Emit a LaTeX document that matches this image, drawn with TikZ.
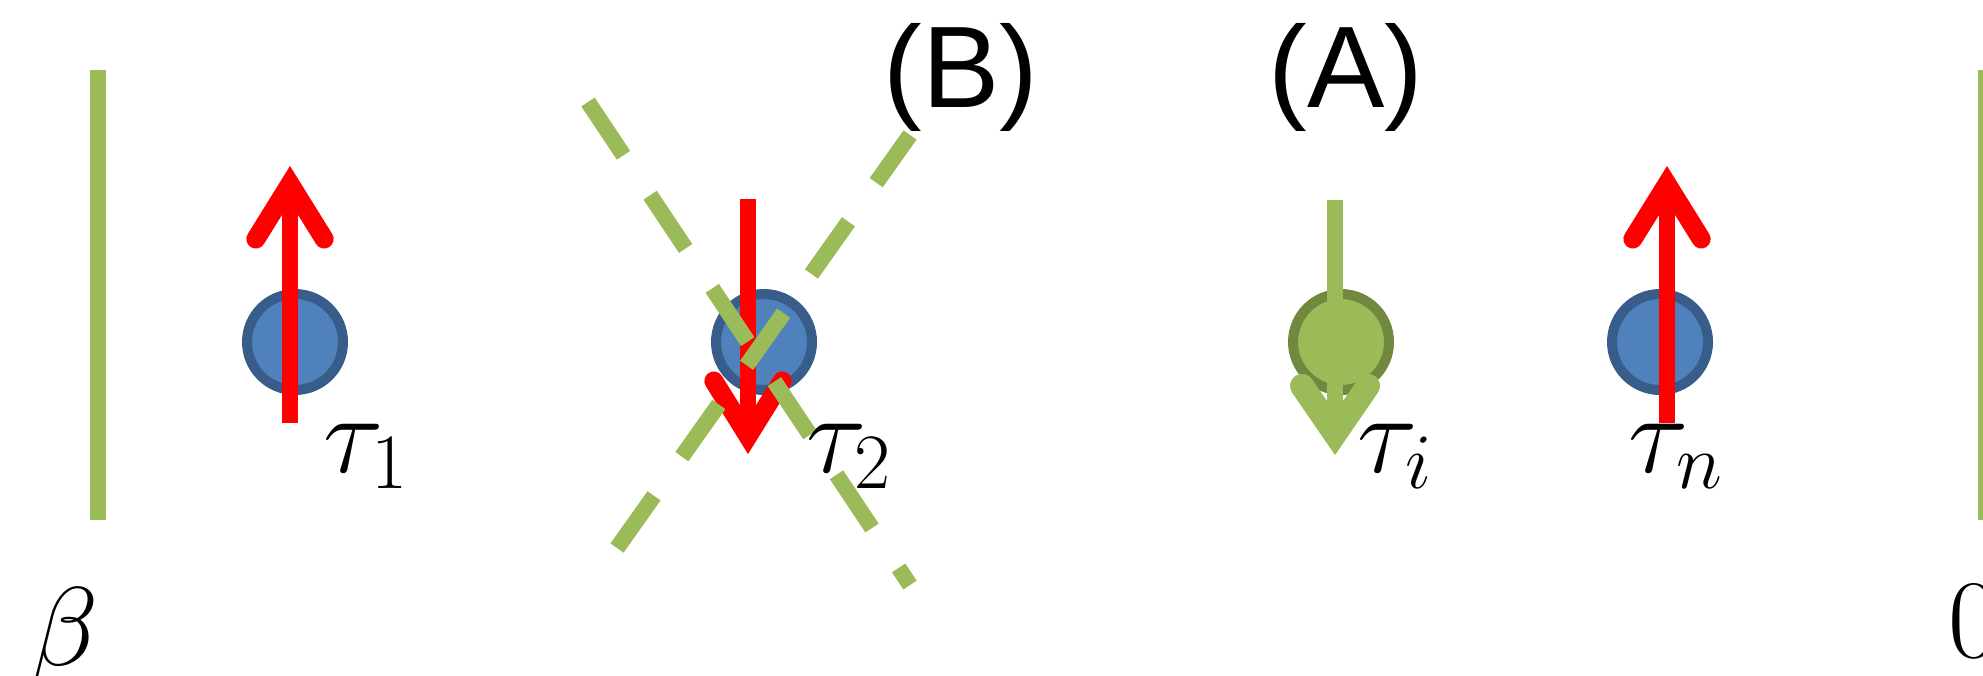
\RequirePackage{fix-cm}
\documentclass[tikz,border=0pt]{standalone}
\usepackage{fontspec}
\newfontfamily\arialfont{Liberation Sans}
\usepackage{tikz}
\usetikzlibrary{
  calc,
  positioning,
  arrows.meta
}
\definecolor{barGreen}{HTML}{9BBB59}
\definecolor{siteBlue}{HTML}{4F81BD}
\definecolor{siteBlueEdge}{HTML}{385D8A}
\definecolor{siteGreenEdge}{HTML}{71893F}
\definecolor{spinRed}{HTML}{FF0000}

\begin{document}
\begin{tikzpicture}[x=0.3pt,y=-0.3pt]
  \tikzset{
    wall/.style={line width=4.8pt,color=barGreen},
    cut/.style={wall,dash pattern=on 19.2pt off 14.4pt},
    site/.style={circle,draw=siteBlueEdge,fill=siteBlue,line width=3pt,
      minimum size=28.8pt,inner sep=0pt},
    spin/.style={line width=4.8pt,color=spinRed,
      -{Straight Barb[length=16.5pt,width=20.5pt,line width=5.7pt,line cap=round]}},
    fatspin/.style={line width=4.8pt,color=barGreen,
      -{Straight Barb[length=14.4pt,width=19.8pt,line width=7.2pt,line cap=round]}},
    lab/.style={font=\fontsize{33.6}{40}\selectfont,inner sep=0pt,anchor=base west},
    tag/.style={font=\arialfont\fontsize{34.8}{42}\selectfont,inner sep=0pt,anchor=base},
  }
  \useasboundingbox (0,0) rectangle (1983,675);

  % the two ends of the time line
  \coordinate (beta top) at (98,70);
  \coordinate (beta bot) at (98,520);
  \coordinate (zero top) at (1986,70);
  \coordinate (zero bot) at (1986,520);
  \draw[wall] (beta top) -- (beta bot);
  \draw[wall] (zero top) -- (zero bot);

  % kinks
  \node[site] (s1) at (295,342) {};
  \node[site] (s2) at (764,342) {};
  \node[site,draw=siteGreenEdge,fill=barGreen] (si) at (1341,342) {};
  \node[site] (sn) at (1660,342) {};

  % spins
  \coordinate (u1) at (290,423);
  \coordinate (v1) at (290,166);
  \coordinate (u2) at (748,199);
  \coordinate (v2) at (748,454);
  \coordinate (ui) at (1335,200);
  \coordinate (vi) at (1335,455);
  \coordinate (un) at (1667,423);
  \coordinate (vn) at (1667,166);
  \draw[spin] (u1) -- (v1);
  \draw[spin] (u2) -- (v2);
  \draw[fatspin] (ui) -- (vi);
  \draw[spin] (un) -- (vn);

  % crossed out
  \coordinate (c1a) at (588,102);
  \coordinate (c1b) at (910,585);
  \coordinate (c2a) at (617,548);
  \coordinate (c2b) at (910,135);
  \draw[cut] (c1a) -- (c1b);
  \draw[cut] (c2a) -- (c2b);

  \node[lab] (beta) at (30,665) {$\beta$};
  \node[lab] (zero) at (1948,657) {$0$};
  \node[lab] (tau1) at (323,472) {$\tau_1$};
  \node[lab] (tau2) at (806,472) {$\tau_2$};
  \node[lab] (taui) at (1357,472) {$\tau_i$};
  \node[lab] (taun) at (1628,472) {$\tau_n$};
  \node[tag] (B) at (961,107) {(B)};
  \node[tag] (A) at (1346,107) {(A)};

\end{tikzpicture}
\end{document}
